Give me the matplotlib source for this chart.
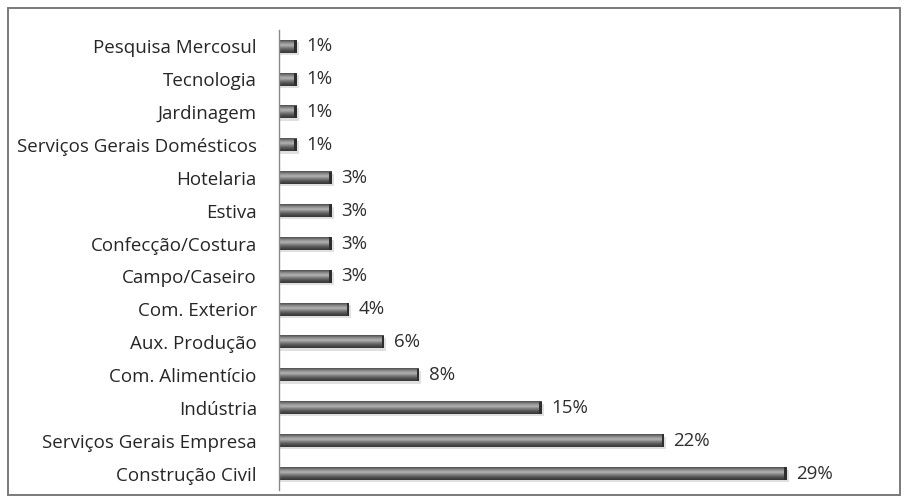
import numpy as np
import matplotlib
matplotlib.use("Agg")
import matplotlib.pyplot as plt
from matplotlib.colors import LinearSegmentedColormap
from matplotlib.patches import Rectangle

categories = [
    "Construção Civil", "Serviços Gerais Empresa", "Indústria", "Com. Alimentício",
    "Aux. Produção", "Com. Exterior", "Campo/Caseiro", "Confecção/Costura",
    "Estiva", "Hotelaria", "Serviços Gerais Domésticos", "Jardinagem",
    "Tecnologia", "Pesquisa Mercosul",
]
values = [29, 22, 15, 8, 6, 4, 3, 3, 3, 3, 1, 1, 1, 1]
labels = ["29%", "22%", "15%", "8%", "6%", "4%", "3%", "3%", "3%", "3%",
          "1%", "1%", "1%", "1%"]

plt.rcParams["font.family"] = ["Open Sans", "DejaVu Sans"]

fig = plt.figure(figsize=(9.08, 5.03), dpi=100)
# outer frame
fig.patches.append(Rectangle((8 / 908, 8 / 503), 892 / 908, 487 / 503,
                             transform=fig.transFigure, fill=False,
                             edgecolor="#7a7a7a", linewidth=1.4))

ax = fig.add_axes([279 / 908, 13 / 503, 601 / 908, 460 / 503])
ax.set_xlim(0, 601 / 17.5)
ax.set_ylim(-0.5, len(categories) - 0.5)

# gradient for the cylinder look (top -> bottom)
cmap = LinearSegmentedColormap.from_list(
    "cyl", ["#4a4a4a", "#8c8c8c", "#b4b4b4", "#7a7a7a", "#4e4e4e", "#353535"])
grad = np.linspace(0, 1, 64).reshape(-1, 1)

h = 0.38
for i, (v, lab) in enumerate(zip(values, labels)):
    # soft shadow
    ax.add_patch(Rectangle((0, i - h / 2 - 0.07), v + 0.12, h, facecolor="#000000",
                           alpha=0.12, linewidth=0, zorder=1))
    ax.imshow(grad, cmap=cmap, aspect="auto", extent=(0, v, i - h / 2, i + h / 2),
              origin="upper", zorder=2, interpolation="bicubic")
    ax.add_patch(Rectangle((v - 0.12, i - h / 2), 0.12, h, facecolor="#2e2e2e",
                           linewidth=0, zorder=3))
    ax.text(v + 0.55, i, lab, va="center", ha="left", fontsize=13.5, color="#2e2e2e")

ax.set_yticks(range(len(categories)))
ax.set_yticklabels(categories, fontsize=13.5, color="#262626")
ax.tick_params(axis="y", length=0, pad=16)
ax.set_xticks([])
for s in ["top", "right", "bottom"]:
    ax.spines[s].set_visible(False)
ax.spines["left"].set_color("#8a8a8a")
ax.spines["left"].set_linewidth(1.0)

fig.savefig("out.png", dpi=100)
